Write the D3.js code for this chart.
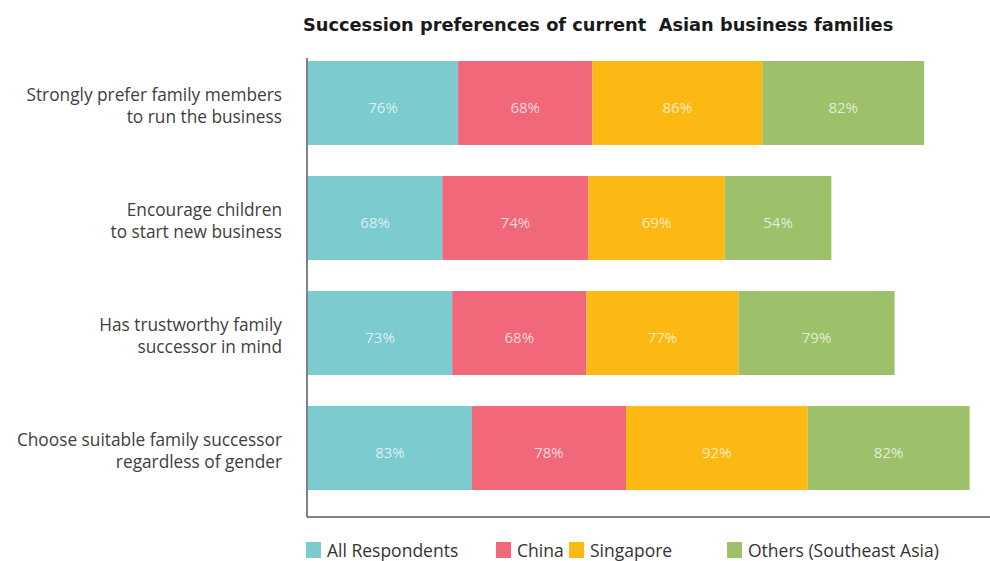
<!DOCTYPE html>
<html>
<head>
<meta charset="utf-8">
<script src="https://cdn.jsdelivr.net/npm/d3@7"></script>
<style>
  body { margin: 0; background: #fff; }
  svg text { font-family: "Open Sans", Lato, sans-serif; }
</style>
</head>
<body>
<div id="app"></div>
<script>
// chart data
const CATEGORIES = [
  ['Strongly prefer family members', 'to run the business'],
  ['Encourage children', 'to start new business'],
  ['Has trustworthy family', 'successor in mind'],
  ['Choose suitable family successor', 'regardless of gender']
];
const SERIES = ['All Respondents', 'China', 'Singapore', 'Others (Southeast Asia)'];
const ALL_RESPONDENTS = [76, 68, 73, 83];
const CHINA = [68, 74, 68, 78];
const SINGAPORE = [86, 69, 77, 92];
const OTHERS = [82, 54, 79, 82];
const COLORS = ['#7bcbcf', '#f0687a', '#fdb913', '#9dc16a'];

const width = 990;
const height = 561;
const margin = {top: 58, left: 307, right: 10, bottom: 517};

const svg = d3.select('#app')
  .append('svg')
  .attr('width', width)
  .attr('height', height);

// build rows for stacking
const rows = CATEGORIES.map((c, i) => ({
  key: i,
  [SERIES[0]]: ALL_RESPONDENTS[i],
  [SERIES[1]]: CHINA[i],
  [SERIES[2]]: SINGAPORE[i],
  [SERIES[3]]: OTHERS[i]
}));
const stacked = d3.stack().keys(SERIES)(rows);

const xScale = d3.scaleLinear()
  .domain([0, 340])
  .range([margin.left + 1, margin.left + 1 + 340 * 1.975]);

const yScale = d3.scaleBand()
  .domain(d3.range(CATEGORIES.length))
  .range([margin.top, 493])
  .paddingInner(0.27)
  .paddingOuter(0.026);

const color = d3.scaleOrdinal().domain(SERIES).range(COLORS);

// title (double space kept as in the original)
svg.append('text')
  .attr('x', 303)
  .attr('y', 31)
  .style('font-family', '"DejaVu Sans", sans-serif')
  .style('font-size', '17.8px')
  .style('font-weight', 'bold')
  .style('fill', '#1a1a1a')
  .text('Succession preferences of current \u00a0Asian business families');

// bars
const layers = svg.append('g')
  .selectAll('g')
  .data(stacked)
  .join('g')
  .attr('fill', d => color(d.key));

layers.selectAll('rect')
  .data(d => d)
  .join('rect')
  .attr('x', d => xScale(d[0]))
  .attr('y', (d, i) => yScale(i))
  .attr('width', d => xScale(d[1]) - xScale(d[0]))
  .attr('height', yScale.bandwidth());

// value labels
layers.selectAll('text')
  .data(d => d)
  .join('text')
  .attr('x', d => (xScale(d[0]) + xScale(d[1])) / 2)
  .attr('y', (d, i) => yScale(i) + yScale.bandwidth() / 2 + 10)
  .attr('text-anchor', 'middle')
  .style('font-size', '15px')
  .style('fill', 'rgba(255,255,255,0.72)')
  .text(d => (d[1] - d[0]) + '%');

// axis lines
const axis = svg.append('g')
  .style('stroke', '#4f5b69')
  .style('stroke-width', 1.5)
  .style('fill', 'none');
axis.append('line')
  .attr('x1', margin.left).attr('x2', margin.left)
  .attr('y1', margin.top).attr('y2', margin.bottom);
axis.append('line')
  .attr('x1', margin.left).attr('x2', width)
  .attr('y1', margin.bottom).attr('y2', margin.bottom);

// category labels
const labels = svg.append('g')
  .selectAll('text')
  .data(CATEGORIES)
  .join('text')
  .attr('text-anchor', 'end')
  .attr('x', 282)
  .attr('y', (d, i) => yScale(i) + yScale.bandwidth() / 2 - 2)
  .style('font-size', '17.3px')
  .style('fill', '#404040');
labels.selectAll('tspan')
  .data(d => d)
  .join('tspan')
  .attr('x', 282)
  .attr('dy', (d, i) => i === 0 ? 0 : 22)
  .text(d => d);

// legend
const legendX = [306, 496, 569, 727];
const legend = svg.append('g')
  .selectAll('g')
  .data(SERIES)
  .join('g')
  .attr('transform', (d, i) => `translate(${legendX[i]}, 542)`);
legend.append('rect')
  .attr('width', 15)
  .attr('height', 16)
  .attr('fill', d => color(d));
legend.append('text')
  .attr('x', 21)
  .attr('y', 15)
  .style('font-size', '17.5px')
  .style('fill', '#333')
  .text(d => d);
</script>
</body>
</html>
